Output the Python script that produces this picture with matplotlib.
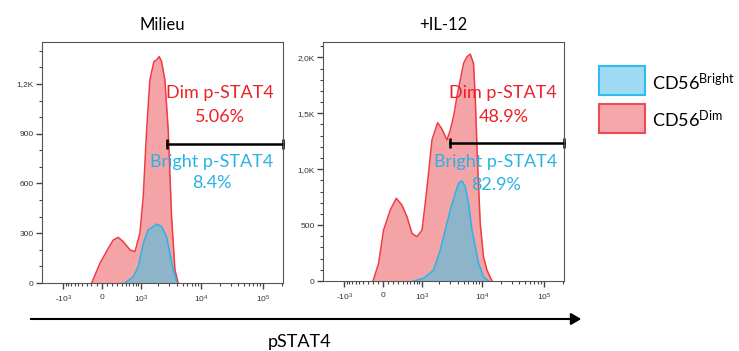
import matplotlib.pyplot as plt
import numpy as np
from matplotlib.patches import Rectangle, FancyArrowPatch

plt.rcParams['font.family'] = ['Lato', 'DejaVu Sans']

# --- data (fluorescence, cell count) ---
milieu_dim_x = [-196, -37, 118, 216, 322, 440, 624, 780, 965, 1107, 1270, 1445, 1690, 1875, 2075,
                2270, 2575, 2920, 3315, 3760, 4245]
milieu_dim_y = [0, 119, 209, 259, 275, 249, 199, 189, 300, 520, 923, 1224, 1335, 1345, 1365,
                1335, 1224, 923, 400, 80, 0]
milieu_bright_x = [482, 721, 898, 1107, 1350, 1645, 1875, 2270, 2745, 3115, 3525, 4005]
milieu_bright_y = [0, 38, 98, 239, 320, 340, 356, 340, 279, 179, 80, 10]

il12_dim_x = [-190, -82, 11, 137, 257, 383, 508, 650, 812, 1010, 1150, 1315, 1505, 1710, 1870,
              2185, 2675, 3035, 3430, 3895, 4415, 4990, 5665, 6405, 7245, 7720, 8415, 9300,
              10500, 11950, 14400]
il12_dim_y = [0, 158, 456, 635, 739, 679, 575, 426, 396, 456, 694, 963, 1261, 1350, 1415,
              1365, 1261, 1350, 1469, 1648, 1797, 1946, 2005, 2029, 1946, 1648, 1052, 516,
              217, 98, 0]
il12_bright_x = [700, 1075, 1600, 2075, 2510, 3035, 3660, 4140, 4705, 5315, 6015, 6830, 7720,
                 8735, 10500, 12700]
il12_bright_y = [0, 24, 98, 277, 456, 635, 784, 873, 897, 843, 694, 456, 307, 158, 38, 0]

titles = ['Milieu', '+IL-12']
dim_pct = ['5.06%', '48.9%']
bright_pct = ['8.4%', '82.9%']
gate_start = [2810, 2950]
gate_y = [836, 1236]
ymax = [1453, 2137]
yticks = [[0, 300, 600, 900, 1200], [0, 500, 1000, 1500, 2000]]
yticklabels = [['0', '300', '600', '900', '1,2K'], ['0', '500', '1,0K', '1,5K', '2,0K']]

xticks = [-1000, 0, 1000, 10000, 100000]
xticklabels = ['-10$\\mathregular{^3}$', '0', '10$\\mathregular{^3}$',
               '10$\\mathregular{^4}$', '10$\\mathregular{^5}$']

RED_FILL = '#f4a4a7'
RED_LINE = '#ef3b43'
BLUE_FILL = '#8db4c9'
BLUE_LINE = '#27b4e8'
RED_TXT = '#ec2028'
BLUE_TXT = '#2ab2e6'

# biexponential-like axis (arcsinh)
C = 500.0
def fwd(x):
    return np.arcsinh(np.asarray(x) / C)
def inv(u):
    return C * np.sinh(u)

minor = ([-v for v in range(100, 1000, 100)] + list(range(100, 1000, 100)) +
         list(range(2000, 10000, 1000)) + list(range(20000, 100000, 10000)) + [200000])

fig = plt.figure(figsize=(7.39, 3.51), dpi=100)
positions = [[0.0568, 0.1937, 0.3261, 0.6866], [0.4371, 0.1994, 0.3261, 0.6809]]
curves = [(milieu_dim_x, milieu_dim_y, milieu_bright_x, milieu_bright_y),
          (il12_dim_x, il12_dim_y, il12_bright_x, il12_bright_y)]
txt_pos = [(0.739, 0.787, 0.690, 0.706, 0.503, 0.414),
           (0.748, 0.785, 0.685, 0.717, 0.499, 0.402)]

for i in range(2):
    ax = fig.add_axes(positions[i])
    dx, dy, bx, by = curves[i]
    ax.set_xscale('function', functions=(fwd, inv))
    ax.fill_between(dx, dy, color=RED_FILL, lw=0)
    ax.plot(dx, dy, color=RED_LINE, lw=1.1)
    ax.fill_between(bx, by, color=BLUE_FILL, lw=0)
    ax.plot(bx, by, color=BLUE_LINE, lw=1.1)
    ax.set_xlim(-2300, 210000)
    ax.set_ylim(0, ymax[i])

    # gate bar
    ax.plot([gate_start[i], 210000], [gate_y[i], gate_y[i]], color='black', lw=1.8,
            marker='|', markersize=7, markeredgewidth=1.8, clip_on=False)

    ax.set_xticks(xticks)
    ax.set_xticklabels(xticklabels)
    ax.set_xticks(minor, minor=True)
    ax.set_yticks(yticks[i])
    ax.set_yticklabels(yticklabels[i])
    ax.set_yticks(np.arange(0, ymax[i], 100), minor=True)
    ax.tick_params(axis='both', which='major', labelsize=6, length=4, width=1,
                   color='#444444', labelcolor='#333333', pad=2)
    ax.tick_params(axis='x', which='major', pad=4)
    ax.tick_params(axis='both', which='minor', length=2, width=0.8, color='#444444')
    for lab in ax.get_xticklabels() + ax.get_yticklabels():
        lab.set_family('Liberation Sans')
    for s in ax.spines.values():
        s.set_color('#555555')
        s.set_linewidth(0.8)

    ax.set_title(titles[i], fontsize=12, pad=9)

    tx, ty1, ty2, bx_, by1, by2 = txt_pos[i]
    ax.text(tx, ty1, 'Dim p-STAT4', color=RED_TXT, fontsize=13, ha='center', va='center',
            transform=ax.transAxes)
    ax.text(tx, ty2, dim_pct[i], color=RED_TXT, fontsize=13, ha='center', va='center',
            transform=ax.transAxes)
    ax.text(bx_, by1, 'Bright p-STAT4', color=BLUE_TXT, fontsize=13, ha='center', va='center',
            transform=ax.transAxes)
    ax.text(bx_, by2, bright_pct[i], color=BLUE_TXT, fontsize=13, ha='center', va='center',
            transform=ax.transAxes)

# legend
W, H = 739.0, 351.0
fig.patches.append(Rectangle((599 / W, 1 - 95 / H), 46 / W, 29 / H, transform=fig.transFigure,
                             facecolor='#a0daf3', edgecolor='#2fbdf0', lw=1.5))
fig.patches.append(Rectangle((599 / W, 1 - 133 / H), 46 / W, 29 / H, transform=fig.transFigure,
                             facecolor='#f6a7aa', edgecolor='#ec4c54', lw=1.5))
fig.text(652 / W, 1 - 82 / H, 'CD56$\\mathregular{^{Bright}}$', fontsize=13, va='center')
fig.text(652 / W, 1 - 120 / H, 'CD56$\\mathregular{^{Dim}}$', fontsize=13, va='center')

# bottom arrow
fig.patches.append(FancyArrowPatch(
    (28 / W, 1 - 319 / H), (584 / W, 1 - 319 / H), transform=fig.transFigure,
    arrowstyle='-|>,head_length=6,head_width=3.5', color='black', lw=1.5))
fig.text(300 / W, 1 - 342 / H, 'pSTAT4', fontsize=13, ha='center', va='center')

fig.savefig('out.png', dpi=100)
